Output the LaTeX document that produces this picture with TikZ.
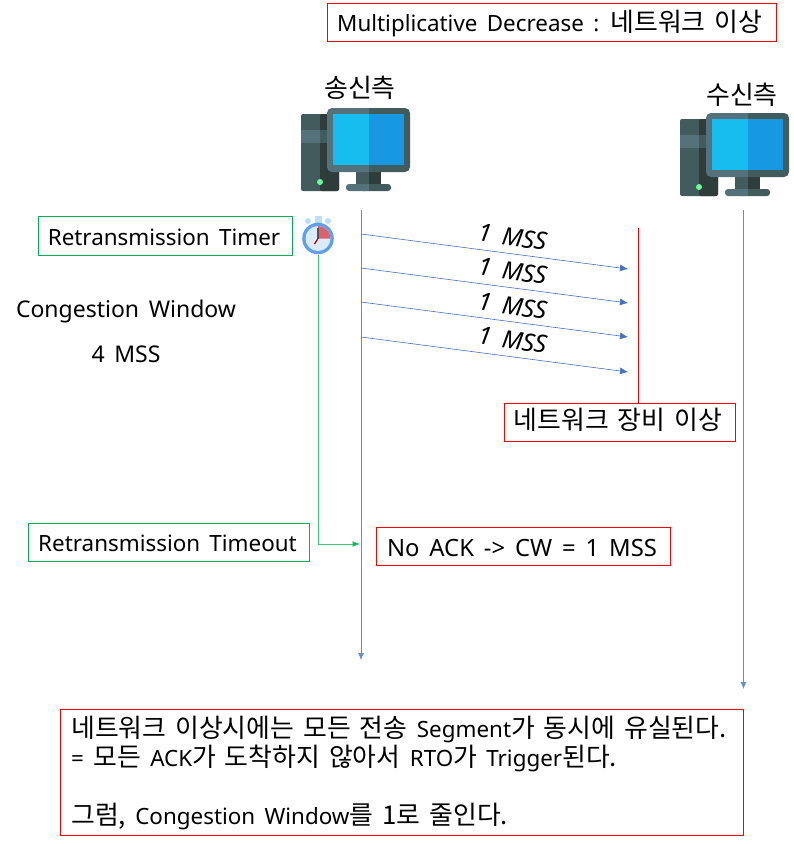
\documentclass[tikz,border=0pt]{standalone}
\usepackage{fontspec}
\setmainfont[WordSpace=1.6]{Noto Sans}
\newfontfamily\kr[WordSpace=1.55,Scale=1.155]{Noto Sans CJK KR}
\usetikzlibrary{arrows.meta}
\definecolor{flowblue}{HTML}{4472C4}
\definecolor{boxgreen}{HTML}{00B050}
\definecolor{linkgreen}{HTML}{3CC878}
\definecolor{slatea}{HTML}{54717C}
\definecolor{slateb}{HTML}{425B5C}
\definecolor{slatec}{HTML}{2E3D3C}
\definecolor{scra}{HTML}{18BDF0}
\definecolor{scrb}{HTML}{1699E2}
\definecolor{watchring}{HTML}{5EA0EE}
\definecolor{watchface}{HTML}{DCEBFB}
\definecolor{watchknob}{HTML}{BBDEFB}
\definecolor{watchred}{HTML}{E0606A}
\tikzset{
  redbox/.style={draw=red,line width=1pt,fill=white},
  greenbox/.style={draw=boxgreen,line width=1pt,fill=white},
  label/.style={inner sep=0pt,anchor=base,font=\fontsize{22.4}{26}\selectfont,text=black},
  biglabel/.style={label,font=\fontsize{23}{26}\selectfont},
  flow/.style={flowblue,line width=0.6pt,-{Latex[length=8pt,width=7pt]}},
  life/.style={flowblue!80!white,line width=0.8pt,-{Latex[length=7pt,width=6pt]}},
  mss/.style={inner sep=0pt,rotate=-8,font=\fontsize{24.5}{28}\itshape\selectfont},
  pics/computer/.style={code={
    \fill[slateb,rounded corners=2pt] (301,114) rectangle (339,191);
    \fill[slatec,rounded corners=2pt] (320,114) rectangle (339,191);
    \fill[slateb] (317,114) rectangle (320,191);
    \fill[slatea] (301,130) rectangle (320,143);
    \fill[slateb] (320,130) rectangle (339,143);
    \fill[green!70!cyan!60!white] (320,182) circle (3);
    \fill[slateb] (356,170) rectangle (368.5,185);
    \fill[slatec] (368.5,170) rectangle (381,185);
    \fill[slateb,rounded corners=3pt] (360,184) rectangle (391,191);
    \fill[slatea,rounded corners=3pt] (346,184) rectangle (368.5,191);
    \fill[slatea] (360,184) rectangle (368.5,191);
    \fill[slatea,rounded corners=5pt] (327,108) rectangle (372,172);
    \fill[slateb,rounded corners=5pt] (364,108) rectangle (410,172);
    \fill[slatea] (364,108) rectangle (368.5,172);
    \fill[scra] (333,114) rectangle (368.5,165);
    \fill[scrb] (368.5,114) rectangle (404,165);
  }}
}
\begin{document}
\begin{tikzpicture}[x=1pt,y=-1pt]
\useasboundingbox (0,0) rectangle (794,844);
\draw[redbox] (327.5,3.5) rectangle (776.5,41);
\node[label,anchor=base west] (titlet) at (337,31) {Multiplicative Decrease : {\kr 네트워크 이상}};

\node[label,anchor=center] (snd) at (360,88) {\kr 송신측};
\node[label,anchor=center] (rcv) at (742,95) {\kr 수신측};
\pic at (0,0) {computer};
\pic at (379,5) {computer};

\coordinate (sTop) at (361,210);
\coordinate (sBot) at (361,660);
\coordinate (rTop) at (743.5,210);
\coordinate (rBot) at (743.5,689);
\draw[life] (sTop) -- (sBot);
\draw[life] (rTop) -- (rBot);

\draw[greenbox] (38.5,216.5) rectangle (292.5,255.5);
\node[label] (rtimert) at (164,245) {Retransmission Timer};
\node[biglabel] (cw) at (126,317) {Congestion Window};
\node[biglabel] (cwv) at (126,362) {4 MSS};

% stopwatch
\node[circle,minimum size=32pt,inner sep=0pt] (watch) at (318,238.5) {};
\fill[watchknob] (315,216) rectangle (322,224);
\fill[watchknob] (308,221) circle (3) (328,221) circle (3);
\fill[watchring] (watch.center) circle (15.8);
\fill[watchface] (watch.center) circle (12.5);
\fill[watchred] (watch.center) -- ++(0,-12.5) arc (-90:0:12.5) -- cycle;
\draw[slateb,line width=1.3pt] (watch.center) -- ++(0,-11);
\draw[red!75!black,line width=1.3pt] (watch.center) -- (314.5,244);

\coordinate (f1a) at (361,234); \coordinate (f1b) at (628,269);
\coordinate (f2a) at (361,268); \coordinate (f2b) at (628,303);
\coordinate (f3a) at (361,302); \coordinate (f3b) at (628,337);
\coordinate (f4a) at (361,337); \coordinate (f4b) at (628,372);
\draw[flow] (f1a) -- (f1b);
\draw[flow] (f2a) -- (f2b);
\draw[flow] (f3a) -- (f3b);
\draw[flow] (f4a) -- (f4b);
\node[mss] (m1) at (513,237) {1 MSS};
\node[mss] (m2) at (513,271) {1 MSS};
\node[mss] (m3) at (513,306) {1 MSS};
\node[mss] (m4) at (513,340) {1 MSS};

\node[redbox,minimum width=231pt,minimum height=38pt,inner sep=0pt] (fault) at (620,422.5) {};
\node[label] (faultt) at (618,429) {\kr 네트워크 장비 이상};
\coordinate (faultTop) at (638.5,228);
\draw[red,line width=1pt] (faultTop) -- (fault.north -| faultTop);

\draw[greenbox] (28.5,523.5) rectangle (309.5,561.5);
\node[label] (rtot) at (167.5,551) {Retransmission Timeout};
\draw[redbox] (376.5,527.5) rectangle (670.5,565.5);
\node[label,font=\fontsize{23.8}{26}\selectfont] (noackt) at (522,556) {No ACK -> CW = 1 MSS};
\coordinate (rtoHit) at (360.5,544);
\draw[linkgreen,line width=0.8pt,-{Latex[length=8pt,width=6pt,fill=boxgreen]}] (watch.south) |- (rtoHit);

\draw[redbox] (60.5,709.5) rectangle (743.5,835.5);
\node[label,anchor=base west] (n1) at (71,737) {{\kr 네트워크 이상시에는 모든 전송} Segment{\kr 가 동시에 유실된다.}};
\node[label,anchor=base west] (n2) at (71,766) {= {\kr 모든} ACK{\kr 가 도착하지 않아서} RTO{\kr 가} Trigger{\kr 된다.}};
\node[label,anchor=base west] (n3) at (71,824) {{\kr 그럼,} Congestion Window{\kr 를 1로 줄인다.}};
\end{tikzpicture}
\end{document}
